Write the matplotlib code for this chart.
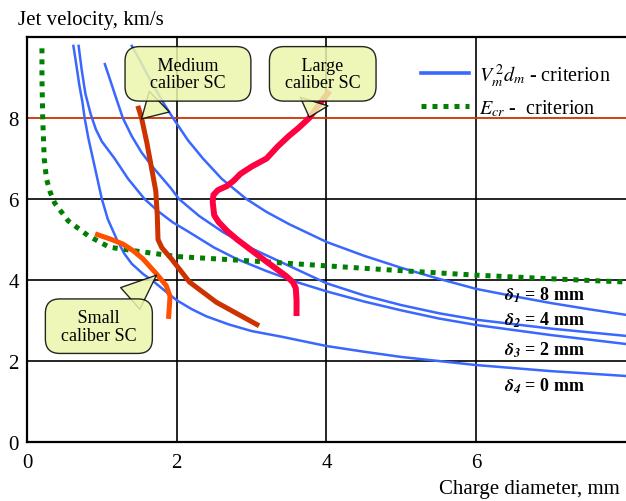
import matplotlib
matplotlib.use("Agg")
import matplotlib.pyplot as plt
from matplotlib.lines import Line2D

plt.rcParams["font.family"] = ["Liberation Serif", "DejaVu Serif"]
plt.rcParams["mathtext.fontset"] = "stix"

# ── data ──
# V_m^2 d_m criterion curves (charge diameter mm, jet velocity km/s)
d1_x = [1.40, 1.50, 1.60, 1.72, 1.83, 1.95, 2.15, 2.35, 2.60, 2.93, 3.20, 3.50, 4.00, 4.50, 5.00,
        5.50, 6.00, 6.50, 7.00, 7.50, 8.00]
d1_y = [9.78, 9.45, 9.10, 8.70, 8.35, 8.00, 7.45, 7.00, 6.50, 6.00, 5.68, 5.38, 4.94, 4.60, 4.30,
        4.03, 3.78, 3.60, 3.43, 3.28, 3.14]
d2_x = [0.69, 0.73, 0.78, 0.85, 0.92, 1.00, 1.17, 1.35, 1.57, 1.75, 1.95, 2.15, 2.50, 2.80, 3.20,
        3.60, 4.00, 4.50, 5.00, 5.50, 6.00, 7.00, 8.00]
d2_y = [9.78, 9.20, 8.60, 8.10, 7.72, 7.42, 7.00, 6.50, 6.00, 5.70, 5.42, 5.20, 4.80, 4.52, 4.22,
        3.95, 3.72, 3.47, 3.25, 3.05, 2.89, 2.64, 2.42]
d3_x = [1.04, 1.10, 1.18, 1.28, 1.40, 1.53, 1.67, 1.80, 1.92, 2.03, 2.30, 2.62, 3.00, 3.50, 4.00,
        4.50, 5.00, 5.50, 6.00, 7.00, 8.00]
d3_y = [9.33, 9.00, 8.55, 8.00, 7.55, 7.15, 6.81, 6.53, 6.27, 6.00, 5.58, 5.18, 4.78, 4.35, 3.92,
        3.62, 3.38, 3.18, 3.02, 2.80, 2.62]
d4_x = [0.62, 0.66, 0.70, 0.74, 0.77, 0.82, 0.88, 0.94, 1.00, 1.08, 1.20, 1.30, 1.40, 1.55, 1.70,
        1.85, 2.00, 2.20, 2.40, 2.70, 3.00, 3.40, 4.00, 4.50, 5.00, 6.00, 7.00, 8.00]
d4_y = [9.78, 9.30, 8.80, 8.40, 8.00, 7.50, 7.00, 6.50, 6.00, 5.50, 5.00, 4.65, 4.40, 4.15, 3.95,
        3.72, 3.50, 3.28, 3.10, 2.90, 2.74, 2.60, 2.37, 2.23, 2.10, 1.90, 1.75, 1.63]

# E_cr criterion
ecr_x = [0.20, 0.20, 0.21, 0.23, 0.26, 0.31, 0.37, 0.55, 0.82, 1.10, 1.44, 2.00, 3.00, 4.00, 5.00,
         6.00, 7.00, 8.00]
ecr_y = [9.72, 9.00, 8.00, 7.00, 6.50, 6.17, 5.90, 5.46, 5.09, 4.81, 4.72, 4.58, 4.47, 4.35, 4.23,
         4.12, 4.03, 3.95]

# shaped charge jets
small_x = [0.91, 1.10, 1.28, 1.42, 1.55, 1.73, 1.86, 1.91, 1.90, 1.89]
small_y = [5.14, 5.02, 4.89, 4.72, 4.52, 4.15, 3.86, 3.60, 3.30, 3.04]
medium_x = [1.48, 1.53, 1.60, 1.66, 1.72, 1.74, 1.75, 1.80, 1.93, 2.17, 2.53, 3.10]
medium_y = [8.30, 8.00, 7.40, 6.80, 6.20, 5.60, 5.00, 4.80, 4.52, 3.95, 3.45, 2.87]
large_x = [4.04, 3.90, 3.77, 3.63, 3.50, 3.35, 3.20, 3.00, 2.85, 2.76, 2.67, 2.55, 2.49, 2.48,
           2.50, 2.56, 2.68, 2.80, 3.15, 3.46, 3.55, 3.59, 3.60, 3.60]
large_y = [8.67, 8.33, 8.00, 7.76, 7.56, 7.30, 7.00, 6.80, 6.62, 6.45, 6.32, 6.22, 6.10, 5.93,
           5.60, 5.43, 5.20, 5.01, 4.52, 4.10, 3.95, 3.80, 3.50, 3.11]

delta_labels = [r"$\mathbfit{\delta}_{\mathbfit{1}}$ = 8 mm", r"$\mathbfit{\delta}_{\mathbfit{2}}$ = 4 mm",
                r"$\mathbfit{\delta}_{\mathbfit{3}}$ = 2 mm", r"$\mathbfit{\delta}_{\mathbfit{4}}$ = 0 mm"]
delta_y = [3.65, 3.04, 2.30, 1.41]

BLUE = "#3a67ff"
GREEN = "#008000"
CALLOUT = "#ecf6ab"

fig = plt.figure(figsize=(6.26, 5.02), dpi=100)
ax = fig.add_axes([0.0431, 0.1175, 0.9569, 0.8068])
ax.set_xlim(0, 8)
ax.set_ylim(0, 10)

# grid
for g in [2, 4, 6]:
    ax.axvline(g, color="black", lw=1.2, zorder=1)
    ax.axhline(g, color="black", lw=1.2, zorder=1)
ax.axhline(8, color="#cc3300", lw=1.3, zorder=1)

for xs, ys in [(d1_x, d1_y), (d2_x, d2_y), (d3_x, d3_y), (d4_x, d4_y)]:
    ax.plot(xs, ys, color=BLUE, lw=1.8, solid_joinstyle="round", zorder=2)

ax.plot(ecr_x, ecr_y, color=GREEN, lw=3.6, linestyle=(0, (1, 1.2)), zorder=3)

ax.plot(small_x, small_y, color="#ff5000", lw=3.6, solid_capstyle="butt", solid_joinstyle="round", zorder=4)
ax.plot(medium_x, medium_y, color="#cc3300", lw=3.6, solid_capstyle="butt", solid_joinstyle="round", zorder=4)
ax.plot(large_x, large_y, color="#ff0040", lw=4.3, solid_capstyle="butt", solid_joinstyle="round", zorder=4)

# callouts
callouts = [("     Medium     \ncaliber SC", (1.53, 7.98), (2.15, 9.09)),
            ("     Large     \ncaliber SC", (3.77, 8.02), (3.95, 9.09)),
            ("     Small     \ncaliber SC", (1.73, 4.12), (0.96, 2.86))]
for txt, tip, center in callouts:
    ax.annotate(txt, xy=tip, xytext=center, ha="center", va="center", fontsize=13,
                linespacing=1.05, zorder=6, multialignment="center",
                bbox=dict(boxstyle="round,pad=0.55,rounding_size=0.8", fc=CALLOUT, ec="black",
                          lw=1.0, alpha=0.85),
                arrowprops=dict(arrowstyle="wedge,tail_width=1.6,shrink_factor=0.5", fc=CALLOUT,
                                ec="black", lw=1.0, shrinkA=0, shrinkB=0, alpha=0.85))

for lab, yy in zip(delta_labels, delta_y):
    ax.text(6.37, yy, lab, fontsize=13, fontweight="bold", ha="left", va="center", zorder=5)

handles = [Line2D([], [], color=BLUE, lw=2.6),
           Line2D([], [], color=GREEN, lw=3.6, linestyle=(0, (1, 1.2)))]
ax.legend(handles, [r"$V_m^{\,2}d_m$ - criterion", r"$E_{cr}$ -  criterion"],
          loc="upper left", bbox_to_anchor=(0.627, 0.985), frameon=False, fontsize=14.5,
          handlelength=2.4, handletextpad=0.5, labelspacing=0.45)

# axes frame and ticks
for side in ["left", "bottom", "top"]:
    ax.spines[side].set_linewidth(1.6)
ax.spines["right"].set_visible(False)
ax.set_xticks([0, 2, 4, 6])
ax.set_yticks([0, 2, 4, 6, 8])
ax.tick_params(length=0, labelsize=15)
ax.tick_params(axis="y", pad=6)
ax.tick_params(axis="x", pad=8)

fig.text(18 / 626, 1 - 20 / 502, "Jet velocity, km/s", fontsize=15, ha="left", va="center")
fig.text(620 / 626, 1 - 490 / 502, "Charge diameter, mm", fontsize=15, ha="right", va="center")

fig.savefig("out.png", dpi=100)
